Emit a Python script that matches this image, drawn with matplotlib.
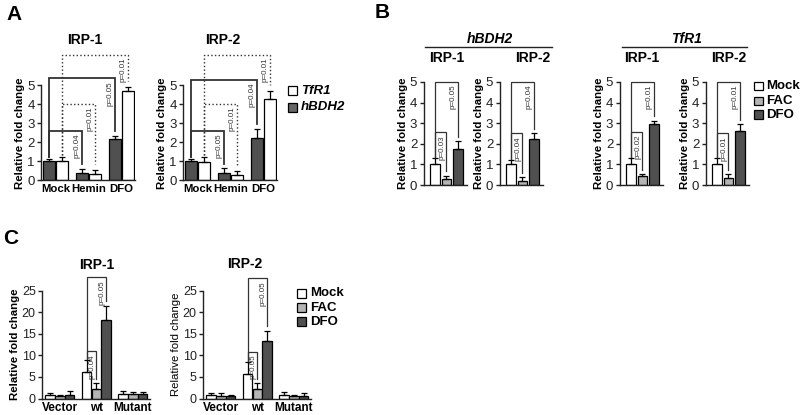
import numpy as np
import matplotlib
matplotlib.use("Agg")
import matplotlib.pyplot as plt
from matplotlib.patches import Rectangle
from matplotlib.lines import Line2D

plt.rcParams['font.family'] = ['Liberation Sans', 'DejaVu Sans']

# ---------------- data ----------------
# Panel A
a_groups = ["Mock", "Hemin", "DFO"]
a1_hbdh2 = [1.0, 0.42, 2.2]
a1_hbdh2_err = [0.12, 0.2, 0.15]
a1_tfr1 = [1.0, 0.33, 4.7]
a1_tfr1_err = [0.25, 0.22, 0.22]
a2_hbdh2 = [1.0, 0.37, 2.25]
a2_hbdh2_err = [0.12, 0.27, 0.45]
a2_tfr1 = [0.98, 0.3, 4.3]
a2_tfr1_err = [0.25, 0.22, 0.4]
# brackets: (bar1, bar2, level, label)
a1_solid = [(0, 2, 5.37, "p=0.05"), (0, 1, 2.63, "p=0.04")]
a1_dotted = [(0, 2, 6.63, "p=0.01"), (0, 1, 4.05, "p=0.01")]
a2_solid = [(0, 2, 5.3, "p=0.04"), (0, 1, 2.63, "p=0.05")]
a2_dotted = [(0, 2, 6.63, "p=0.01"), (0, 1, 4.05, "p=0.01")]

# Panel B (Mock, FAC, DFO)
b_treat = ["Mock", "FAC", "DFO"]
b_hbdh2_irp1 = [1.0, 0.28, 1.75]
b_hbdh2_irp1_err = [0.3, 0.18, 0.38]
b_hbdh2_irp2 = [1.0, 0.2, 2.22]
b_hbdh2_irp2_err = [0.2, 0.18, 0.32]
b_tfr1_irp1 = [1.02, 0.45, 2.95]
b_tfr1_irp1_err = [0.3, 0.1, 0.18]
b_tfr1_irp2 = [1.0, 0.35, 2.62]
b_tfr1_irp2_err = [0.33, 0.17, 0.35]
b_hbdh2_irp1_br = [(0, 2, 5.0, "p=0.05"), (0, 1, 2.55, "p=0.03")]
b_hbdh2_irp2_br = [(0, 2, 5.0, "p=0.04"), (0, 1, 2.5, "p=0.04")]
b_tfr1_irp1_br = [(0, 2, 5.0, "p=0.01"), (0, 1, 2.57, "p=0.02")]
b_tfr1_irp2_br = [(0, 2, 5.0, "p=0.01"), (0, 1, 2.5, "p=0.01")]

# Panel C
c_groups = ["Vector", "wt", "Mutant"]
c1_mock = [0.7, 6.2, 1.1]
c1_mock_err = [0.6, 2.7, 0.7]
c1_fac = [0.6, 2.3, 1.0]
c1_fac_err = [0.3, 1.2, 0.6]
c1_dfo = [0.8, 18.2, 1.0]
c1_dfo_err = [0.9, 3.3, 0.6]
c2_mock = [0.7, 5.6, 0.8]
c2_mock_err = [0.6, 2.8, 0.6]
c2_fac = [0.6, 2.2, 0.5]
c2_fac_err = [0.6, 1.3, 0.3]
c2_dfo = [0.5, 13.3, 0.6]
c2_dfo_err = [0.4, 2.4, 0.6]
c1_br = [(0, 2, 28.1, "p=0.05"), (0, 1, 10.9, "p=0.04")]
c2_br = [(0, 2, 27.8, "p=0.05"), (0, 1, 10.8, "p=0.05")]

# ---------------- style ----------------
W, H = 800, 415
DARK = "#505050"
LIGHT = "#b4b4b4"
WHITE = "#ffffff"
SPINE = "#222222"

fig = plt.figure(figsize=(8, 4.15), dpi=100)


def make_ax(left, right, y0, ytop):
    return fig.add_axes([left / W, 1 - y0 / H, (right - left) / W, (y0 - ytop) / H])


def style(ax, ylab, ylab_bold=True, ylab_size=8.2, tick_size=9.5):
    for s in ("top", "right"):
        ax.spines[s].set_visible(False)
    for s in ("left", "bottom"):
        ax.spines[s].set_linewidth(1.0)
        ax.spines[s].set_color(SPINE)
    ax.tick_params(axis="y", length=3, width=1, labelsize=tick_size, pad=1.5,
                   color=SPINE, labelcolor="#222222")
    ax.tick_params(axis="x", length=0, pad=2.5)
    ax.set_ylabel(ylab, fontsize=ylab_size,
                  fontweight="bold" if ylab_bold else "normal", labelpad=1.5)


def bars(ax, xs, vals, errs, color, width, lw=0.9, cap=2.3):
    ax.bar(xs, vals, width, color=color, edgecolor="black", linewidth=lw, zorder=2)
    ax.errorbar(xs, vals, yerr=[np.zeros(len(vals)), errs], fmt="none",
                ecolor="black", elinewidth=lw, capsize=cap, capthick=lw, zorder=3)


def bracket(ax, x1, y1, x2, y2, top, label, ls="-", lw=1.0, color="#333333",
            fs=5.8):
    ax.plot([x1, x1, x2, x2], [y1, top, top, y2], ls=ls, lw=lw, color=color,
            clip_on=False, zorder=4, solid_joinstyle="miter")
    ax.annotate(label, xy=(x2, top), xytext=(-0.8, -2.0),
                textcoords="offset points", rotation=90, ha="right", va="top",
                fontsize=fs, color="#333333", annotation_clip=False)


def legend_box(x, ys, labels, colors, size, fs, style_="normal"):
    for y, lab, col in zip(ys, labels, colors):
        fig.add_artist(Rectangle((x / W, 1 - (y + size) / H), size / W, size / H,
                                 transform=fig.transFigure, facecolor=col,
                                 edgecolor="black", linewidth=0.9))
        fig.text((x + size + 4) / W, 1 - (y + size / 2) / H, lab, fontsize=fs,
                 fontweight="bold", fontstyle=style_, va="center", ha="left")


# ---------------- Panel A ----------------
A_OFF = 0.2
A_W = 0.36


def panel_a(left, hb, hbe, tf, tfe, solid, dotted):
    right = left + 94
    ax = make_ax(left, right, 180.5, 85.5)
    x = np.arange(len(a_groups))
    bars(ax, x - A_OFF, hb, hbe, DARK, A_W)
    bars(ax, x + A_OFF, tf, tfe, WHITE, A_W)
    ax.set_xlim(-0.44, 2.41)
    ax.set_ylim(0, 5)
    ax.set_yticks(range(6))
    ax.set_xticks(x)
    ax.set_xticklabels(a_groups, fontsize=8.2, fontweight="bold")
    style(ax, "Relative fold change")
    tops_h = np.array(hb) + np.array(hbe)
    tops_t = np.array(tf) + np.array(tfe)
    for i, j, lev, lab in solid:
        bracket(ax, i - A_OFF, tops_h[i] + 0.12, j - A_OFF, tops_h[j] + 0.25,
                lev, lab, ls="-", lw=1.3, color="#333333")
    for i, j, lev, lab in dotted:
        bracket(ax, i + A_OFF, tops_t[i] + 0.1, j + A_OFF, tops_t[j] + 0.3,
                lev, lab, ls=":", lw=1.0, color="#333333")
    return ax


panel_a(41, a1_hbdh2, a1_hbdh2_err, a1_tfr1, a1_tfr1_err, a1_solid, a1_dotted)
panel_a(183, a2_hbdh2, a2_hbdh2_err, a2_tfr1, a2_tfr1_err, a2_solid, a2_dotted)
fig.text(85 / W, 1 - 40 / H, "IRP-1", fontsize=10, fontweight="bold",
         ha="center", va="center")
fig.text(223 / W, 1 - 40 / H, "IRP-2", fontsize=10, fontweight="bold",
         ha="center", va="center")
legend_box(288, [86, 103], ["TfR1", "hBDH2"], [WHITE, "#666666"], 9, 9.5,
           style_="italic")

# ---------------- Panel B ----------------
B_W = 0.85


def panel_b(left, vals, errs, brs):
    ax = make_ax(left, left + 43, 185, 82)
    x = np.arange(3)
    for xi, v, e, c in zip(x, vals, errs, [WHITE, LIGHT, DARK]):
        bars(ax, [xi], [v], [e], c, B_W, cap=2.0)
    ax.set_xlim(-1.0, 2.75)
    ax.set_ylim(0, 5)
    ax.set_yticks(range(6))
    ax.set_xticks([])
    style(ax, "Relative fold change")
    tops = np.array(vals) + np.array(errs)
    for i, j, lev, lab in brs:
        bracket(ax, i, tops[i] + 0.05, j, tops[j] + 0.2, lev, lab, lw=0.9)
    return ax


panel_b(423.5, b_hbdh2_irp1, b_hbdh2_irp1_err, b_hbdh2_irp1_br)
panel_b(499.5, b_hbdh2_irp2, b_hbdh2_irp2_err, b_hbdh2_irp2_br)
panel_b(619.5, b_tfr1_irp1, b_tfr1_irp1_err, b_tfr1_irp1_br)
panel_b(705.5, b_tfr1_irp2, b_tfr1_irp2_err, b_tfr1_irp2_br)

for cx, txt in [(490, "hBDH2"), (686, "TfR1")]:
    fig.text(cx / W, 1 - 39 / H, txt, fontsize=10, fontweight="bold",
             fontstyle="italic", ha="center", va="center")
for x1, x2 in [(425, 552), (622, 747)]:
    fig.add_artist(Line2D([x1 / W, x2 / W], [1 - 47 / H, 1 - 47 / H],
                          transform=fig.transFigure, color="#222222", lw=1.0))
for cx, txt in [(447, "IRP-1"), (533, "IRP-2"), (642, "IRP-1"), (729, "IRP-2")]:
    fig.text(cx / W, 1 - 58 / H, txt, fontsize=10, fontweight="bold",
             ha="center", va="center")
legend_box(754, [82, 96.5, 110.5], b_treat, [WHITE, LIGHT, DARK], 8.5, 9.5)

# ---------------- Panel C ----------------
C_OFF = 0.27
C_W = 0.26


def panel_c(left, right, m, me, f, fe, d, de, brs, bold_lab):
    ax = make_ax(left, right, 398.5, 290.5)
    x = np.arange(3)
    bars(ax, x - C_OFF, m, me, WHITE, C_W, cap=2.5)
    bars(ax, x, f, fe, LIGHT, C_W, cap=2.5)
    bars(ax, x + C_OFF, d, de, DARK, C_W, cap=2.5)
    ax.set_xlim(-0.49, 2.47)
    ax.set_ylim(0, 25)
    ax.set_yticks(range(0, 26, 5))
    ax.set_xticks(x)
    ax.set_xticklabels(c_groups, fontsize=8.5, fontweight="bold")
    style(ax, "Relative fold change", ylab_bold=bold_lab, tick_size=9)
    tops = [np.array(m) + np.array(me), np.array(f) + np.array(fe),
            np.array(d) + np.array(de)]
    for i, j, lev, lab in brs:
        # brackets within wt group: from Mock bar to FAC / DFO bar
        x1 = 1 - C_OFF
        x2 = 1 + (j - 1) * C_OFF
        bracket(ax, x1, tops[0][1] + 0.2, x2, tops[j][1] + 1.0, lev, lab, lw=0.9)
    return ax


panel_c(42, 150, c1_mock, c1_mock_err, c1_fac, c1_fac_err, c1_dfo, c1_dfo_err,
        c1_br, True)
panel_c(203, 311, c2_mock, c2_mock_err, c2_fac, c2_fac_err, c2_dfo, c2_dfo_err,
        c2_br, False)
fig.text(97 / W, 1 - 265 / H, "IRP-1", fontsize=10, fontweight="bold",
         ha="center", va="center")
fig.text(245 / W, 1 - 264 / H, "IRP-2", fontsize=10, fontweight="bold",
         ha="center", va="center")
legend_box(297, [289, 303, 317], b_treat, [WHITE, LIGHT, DARK], 9, 9.5)

# panel letters
fig.text(6 / W, 1 - 14 / H, "A", fontsize=15, fontweight="bold", va="center")
fig.text(375 / W, 1 - 13 / H, "B", fontsize=15, fontweight="bold", va="center")
fig.text(3 / W, 1 - 238 / H, "C", fontsize=15, fontweight="bold", va="center")

fig.savefig("out.png", dpi=100)
